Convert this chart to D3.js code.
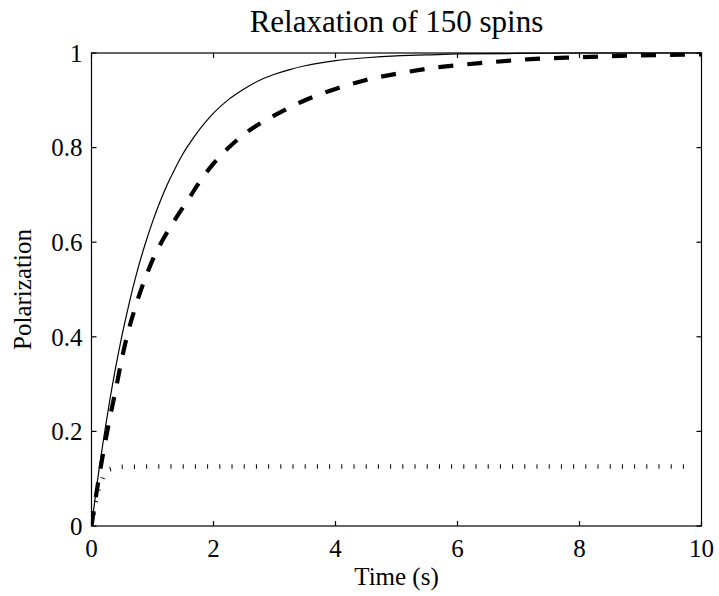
<!DOCTYPE html>
<html>
<head>
<meta charset="utf-8">
<script src="https://cdn.jsdelivr.net/npm/d3@7"></script>
<style>
  body { margin: 0; background: #fff; }
  text { font-family: "Liberation Serif", "Times New Roman", serif; fill: #000; }
</style>
</head>
<body>
<div id="chart"></div>
<script>
var width = 719;
var height = 596;

var margin = { top: 53, right: 17.5, bottom: 70, left: 91.5 };

// values
var solidT   = [0, 0.1, 0.2, 0.3, 0.4, 0.5, 0.625, 0.75, 0.875, 1, 1.125, 1.25, 1.375, 1.5, 1.625, 1.75, 1.875, 2, 2.25, 2.5, 2.75, 3, 3.25, 3.5, 4, 4.5, 5, 5.5, 6, 7, 8, 9, 10];
var solidV   = [0, 0.098, 0.186, 0.266, 0.338, 0.403, 0.475, 0.539, 0.594, 0.643, 0.686, 0.724, 0.757, 0.787, 0.812, 0.835, 0.855, 0.873, 0.902, 0.924, 0.942, 0.955, 0.965, 0.973, 0.984, 0.990, 0.994, 0.996, 0.998, 0.999, 1, 1, 1];

var dashedT  = [0, 0.1, 0.2, 0.3, 0.4, 0.5, 0.6, 0.7, 0.8, 0.9, 1.0, 1.2, 1.4, 1.6, 1.8, 2.0, 2.25, 2.5, 2.75, 3.0, 3.5, 4.0, 4.5, 5.0, 5.7, 6.5, 7.2, 8, 9, 10];
var dashedV  = [0, 0.085, 0.16, 0.228, 0.29, 0.355, 0.41, 0.455, 0.495, 0.53, 0.562, 0.612, 0.654, 0.693, 0.733, 0.766, 0.8, 0.828, 0.85, 0.868, 0.9, 0.924, 0.943, 0.956, 0.97, 0.98, 0.987, 0.991, 0.995, 0.997];

var dottedT  = [0, 0.1, 0.2, 0.3, 0.45, 1, 2, 3, 4, 5, 6, 7, 8, 9, 9.85];
var dottedV  = [0, 0.07, 0.108, 0.12, 0.125, 0.126, 0.126, 0.126, 0.126, 0.126, 0.126, 0.126, 0.126, 0.126, 0.126];

var xTicks = [0, 2, 4, 6, 8, 10];
var yTicks = [0, 0.2, 0.4, 0.6, 0.8, 1];

var svg = d3.select("#chart")
  .append("svg")
  .attr("width", width)
  .attr("height", height);

svg.append("rect").attr("width", width).attr("height", height).attr("fill", "#fff");

var xScale = d3.scaleLinear()
  .domain([0, 10])
  .range([margin.left, width - margin.right]);

var yScale = d3.scaleLinear()
  .domain([0, 1])
  .range([height - margin.bottom, margin.top]);

var x0 = margin.left, x1 = width - margin.right;
var y0 = height - margin.bottom, y1 = margin.top;

svg.append("clipPath").attr("id", "plot")
  .append("rect")
  .attr("x", x0).attr("y", y1 - 3)
  .attr("width", x1 - x0).attr("height", y0 - y1 + 3);

var line = d3.line()
  .x(function(d) { return xScale(d[0]); })
  .y(function(d) { return yScale(d[1]); });

function pairs(t, v) { return t.map(function(d, i) { return [d, v[i]]; }); }

var plot = svg.append("g").attr("clip-path", "url(#plot)");

// dotted
plot.append("path")
  .datum(pairs(dottedT, dottedV))
  .attr("d", line)
  .attr("fill", "none")
  .attr("stroke", "#000")
  .attr("stroke-width", 4.5)
  .attr("stroke-dasharray", "1,11.2");

// dashed
plot.append("path")
  .datum(pairs(dashedT, dashedV))
  .attr("d", line.curve(d3.curveMonotoneX))
  .attr("fill", "none")
  .attr("stroke", "#000")
  .attr("stroke-width", 4.2)
  .attr("stroke-dasharray", "15,14");

// solid
plot.append("path")
  .datum(pairs(solidT, solidV))
  .attr("d", line.curve(d3.curveMonotoneX))
  .attr("fill", "none")
  .attr("stroke", "#000")
  .attr("stroke-width", 1.2);

// box and inward ticks, matlab style
var tickLen = 5;
var axes = svg.append("g").attr("stroke", "#000").attr("stroke-width", 1.2);

axes.append("rect")
  .attr("x", x0).attr("y", y1)
  .attr("width", x1 - x0).attr("height", y0 - y1)
  .attr("fill", "none");

xTicks.forEach(function(t) {
  var x = xScale(t);
  axes.append("line").attr("x1", x).attr("x2", x).attr("y1", y0).attr("y2", y0 - tickLen);
  axes.append("line").attr("x1", x).attr("x2", x).attr("y1", y1).attr("y2", y1 + tickLen);
});
yTicks.forEach(function(v) {
  var y = yScale(v);
  axes.append("line").attr("x1", x0).attr("x2", x0 + tickLen).attr("y1", y).attr("y2", y);
  axes.append("line").attr("x1", x1).attr("x2", x1 - tickLen).attr("y1", y).attr("y2", y);
});

svg.selectAll(".xlab")
  .data(xTicks)
  .enter()
  .append("text")
    .attr("class", "xlab")
    .attr("x", function(d) { return xScale(d); })
    .attr("y", y0 + 30.5)
    .attr("text-anchor", "middle")
    .style("font-size", "25px")
    .text(function(d) { return d; });

svg.selectAll(".ylab")
  .data(yTicks)
  .enter()
  .append("text")
    .attr("class", "ylab")
    .attr("x", x0 - 9)
    .attr("y", function(d) { return yScale(d) + 8.7; })
    .attr("text-anchor", "end")
    .style("font-size", "25px")
    .text(function(d) { return d; });

svg.append("text")
  .attr("x", (x0 + x1) / 2)
  .attr("y", 585)
  .attr("text-anchor", "middle")
  .style("font-size", "25px")
  .text("Time (s)");

svg.append("text")
  .attr("transform", "rotate(-90)")
  .attr("x", -(y0 + y1) / 2)
  .attr("y", 31)
  .attr("text-anchor", "middle")
  .style("font-size", "25px")
  .text("Polarization");

svg.append("text")
  .attr("x", (x0 + x1) / 2)
  .attr("y", 31.5)
  .attr("text-anchor", "middle")
  .style("font-size", "31px")
  .text("Relaxation of 150 spins");
</script>
</body>
</html>
